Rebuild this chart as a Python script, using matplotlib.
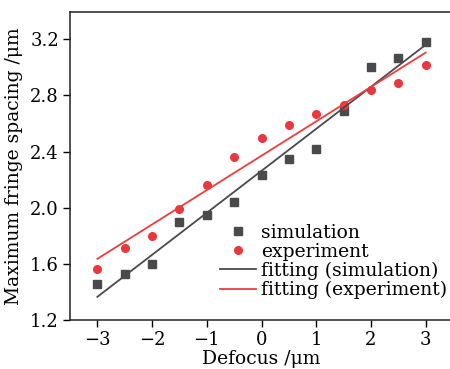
import matplotlib
matplotlib.use("Agg")
import matplotlib.pyplot as plt
import numpy as np

defocus = [-3, -2.5, -2, -1.5, -1, -0.5, 0, 0.5, 1, 1.5, 2, 2.5, 3]
simulation = [1.46, 1.53, 1.60, 1.90, 1.95, 2.04, 2.23, 2.35, 2.42, 2.69, 3.00, 3.07, 3.18]
experiment = [1.56, 1.71, 1.80, 1.99, 2.16, 2.36, 2.50, 2.59, 2.67, 2.73, 2.84, 2.89, 3.02]
xticks = [-3, -2, -1, 0, 1, 2, 3]
yticks = [1.2, 1.6, 2.0, 2.4, 2.8, 3.2]

plt.rcParams['font.family'] = ['DejaVu Serif']
plt.rcParams['mathtext.fontset'] = 'dejavuserif'

fig = plt.figure(figsize=(4.5, 3.69), dpi=100)
ax = fig.add_axes([70 / 450, 1 - 320 / 369, 383 / 450, 308 / 369])

x = np.array(defocus)
ps = np.polyfit(x, simulation, 1)
pe = np.polyfit(x, experiment, 1)
xf = np.array([-3, 3])

ax.plot(x, simulation, 's', color='#4a4a4c', ms=5.5, ls='none', label='simulation')
ax.plot(x, experiment, 'o', color='#e8383d', ms=5.5, ls='none', label='experiment')
ax.plot(xf, np.polyval(ps, xf), color='#4a4a4c', lw=1.3, label='fitting (simulation)')
ax.plot(xf, np.polyval(pe, xf), color='#f03c3c', lw=1.3, label='fitting (experiment)')

ax.set_xlim(-3.5, 3.5)
ax.set_ylim(1.2, 3.395)
ax.set_xticks(xticks)
ax.set_xticklabels(['\u2212' + str(-t) if t < 0 else str(t) for t in xticks])
ax.set_yticks(yticks)
ax.set_yticklabels([f'{t:.1f}' for t in yticks])
ax.tick_params(direction='out', length=5, width=1, labelsize=13, pad=3)
for s in ax.spines.values():
    s.set_linewidth(1.1)
    s.set_color('#222222')

ax.set_xlabel('Defocus /\u03bcm', fontsize=13.5, labelpad=1)
ax.set_ylabel('Maximum fringe spacing /\u03bcm', fontsize=13.5, labelpad=5)

ax.legend(loc='lower right', bbox_to_anchor=(1.02, 0.025), frameon=False,
          fontsize=13.5, handlelength=1.9, handletextpad=0.3,
          labelspacing=0.05, borderaxespad=0.3)

fig.savefig('out.png', dpi=100)
